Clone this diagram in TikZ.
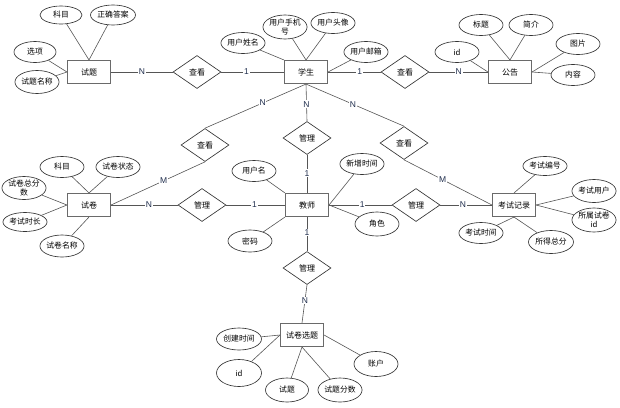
\documentclass[tikz,border=0pt]{standalone}
\usepackage{fontspec}
\setmainfont{Noto Sans CJK SC}
\newfontfamily\cardfont{Liberation Sans}
\usetikzlibrary{shapes.geometric}
\definecolor{linec}{HTML}{555555}
\definecolor{boxc}{HTML}{6A6A6A}
\definecolor{shapec}{HTML}{333333}
\definecolor{cardc}{HTML}{22304F}
\tikzset{
  ent/.style={draw=boxc, line width=1.1pt, fill=white, minimum width=43pt, minimum height=23pt, inner sep=0pt, font=\fontsize{8}{9}\selectfont},
  attr/.style={draw=shapec, line width=0.65pt, ellipse, fill=white, minimum width=44pt, minimum height=21pt, inner sep=0pt, font=\fontsize{7.8}{8.6}\selectfont, align=center},
  rel/.style={draw=shapec, line width=0.65pt, diamond, fill=white, minimum width=48pt, minimum height=33pt, inner sep=0pt, font=\fontsize{8}{9}\selectfont},
  conn/.style={draw=linec, line width=0.6pt},
  card/.style={fill=white, inner sep=0.8pt, text=cardc, font=\cardfont\fontsize{8.5}{9}\selectfont}
}
\begin{document}
\begin{tikzpicture}[x=1pt, y=-1pt]
\useasboundingbox (0,0) rectangle (620,407);
% entities
\node[ent] (st) at (89,72) {试题};
\node[ent] (xs) at (306,72) {学生};
\node[ent] (gg) at (510,72) {公告};
\node[ent] (sj) at (89,205) {试卷};
\node[ent] (js) at (307,205) {教师};
\node[ent] (kj) at (514,205) {考试记录};
\node[ent] (sx) at (302,335) {试卷选题};
% relationships
\node[rel] (ck1) at (197,72) {查看};
\node[rel] (ck2) at (405,72) {查看};
\node[rel] (ck3) at (205,145) {查看};
\node[rel] (ck4) at (404,143) {查看};
\node[rel] (gl1) at (307,138) {管理};
\node[rel] (gl2) at (202,205) {管理};
\node[rel] (gl3) at (416,205) {管理};
\node[rel] (gl4) at (307,268) {管理};
% attributes of 试题
\node[attr, minimum width=42pt, minimum height=18pt] (a1) at (61,15) {科目};
\node[attr, minimum width=45pt, minimum height=20pt] (a2) at (113,15) {正确答案};
\node[attr, minimum width=42pt] (a3) at (35,52) {选项};
\node[attr, minimum width=41pt, minimum height=23pt] (a4) at (37,82) {试题名称};
% attributes of 学生
\node[attr] (b1) at (243,43) {用户姓名};
\node[attr, minimum height=24pt] (b2) at (285,27) {用户手机\\号};
\node[attr] (b3) at (333,23) {用户头像};
\node[attr] (b4) at (366,52) {用户邮箱};
% attributes of 公告
\node[attr] (c1) at (481,25) {标题};
\node[attr] (c2) at (531,25) {简介};
\node[attr] (c3) at (457,52) {id};
\node[attr] (c4) at (578,44) {图片};
\node[attr] (c5) at (573,75) {内容};
% attributes of 试卷
\node[attr] (d1) at (62,167) {科目};
\node[attr] (d2) at (118,167) {试卷状态};
\node[attr, minimum height=23pt] (d3) at (24,188) {试卷总分\\数};
\node[attr, minimum height=19pt] (d4) at (25,222) {考试时长};
\node[attr, minimum height=22pt] (d5) at (62,246) {试卷名称};
% attributes of 教师
\node[attr] (e1) at (254,171) {用户名};
\node[attr] (e2) at (362,164) {新增时间};
\node[attr, minimum height=22pt] (e3) at (250,241) {密码};
\node[attr, minimum height=24pt] (e4) at (377,224) {角色};
% attributes of 考试记录
\node[attr, minimum height=19pt] (f1) at (545,166) {考试编号};
\node[attr, minimum height=23pt] (f2) at (594,191) {考试用户};
\node[attr, minimum height=24pt] (f3) at (594,220) {所属试卷\\id};
\node[attr] (f4) at (481,233) {考试时间};
\node[attr, minimum width=45pt, minimum height=23pt] (f5) at (551,242) {所得总分};
% attributes of 试卷选题
\node[attr, minimum width=45pt, minimum height=22pt] (g1) at (239,339) {创建时间};
\node[attr, minimum width=45pt, minimum height=27pt] (g2) at (239,373) {id};
\node[attr, minimum width=43pt, minimum height=24pt] (g3) at (287,390) {试题};
\node[attr, minimum width=44pt, minimum height=24pt] (g4) at (340,390) {试题分数};
\node[attr, minimum width=44pt, minimum height=25pt] (g5) at (376,364) {账户};
% attribute connectors
\draw[conn] (a1) -- (st.north);
\draw[conn] (a2) -- (st.north);
\draw[conn] (a3) -- (st.west);
\draw[conn] (a4) -- (st.west);
\draw[conn] (b1) -- (xs.north west);
\draw[conn] (b2) -- (xs.north);
\draw[conn] (b3) -- (xs.north);
\draw[conn] (b4) -- (xs.east);
\draw[conn] (c1) -- (gg.north);
\draw[conn] (c2) -- (gg.north);
\draw[conn] (c3) -- (gg.west);
\draw[conn] (c4) -- (gg.east);
\draw[conn] (c5) -- (gg.east);
\draw[conn] (d1) -- (sj.north);
\draw[conn] (d2) -- (sj.north);
\draw[conn] (d3) -- (sj.west);
\draw[conn] (d4) -- (sj.west);
\draw[conn] (d5) -- (sj.south);
\draw[conn] (e1) -- (js.north west);
\draw[conn] (e2) -- (js.east);
\draw[conn] (e3) -- (js.south west);
\draw[conn] (e4) -- (js.east);
\draw[conn] (f1) -- (kj.north);
\draw[conn] (f2) -- (kj.east);
\draw[conn] (f3) -- (kj.east);
\draw[conn] (f4) -- (kj.south);
\draw[conn] (f5) -- (kj.south);
\draw[conn] (g1) -- (sx.west);
\draw[conn] (g2) -- (sx.west);
\draw[conn] (g3) -- (sx.south);
\draw[conn] (g4) -- (sx.south);
\draw[conn] (g5) -- (sx.east);
% relationship connectors
\draw[conn] (st.east) -- node[card, pos=0.5] {N} (ck1.west);
\draw[conn] (ck1.east) -- node[card, pos=0.4] {1} (xs.west);
\draw[conn] (xs.east) -- node[card, pos=0.6] {1} (ck2.west);
\draw[conn] (ck2.east) -- node[card, pos=0.5] {N} (gg.west);
\draw[conn] (xs.south) -- node[card, pos=0.43] {N} (ck3.north);
\draw[conn] (xs.south) -- node[card, pos=0.54] {N} (gl1.north);
\draw[conn] (xs.south) -- node[card, pos=0.48] {N} (ck4.north);
\draw[conn] (gl1.south) -- node[card, pos=0.48] {1} (js.north);
\draw[conn] (ck3.south) -- node[card, pos=0.44] {M} (sj.east);
\draw[conn] (sj.east) -- node[card, pos=0.57] {N} (gl2.west);
\draw[conn] (gl2.east) -- node[card, pos=0.48] {1} (js.west);
\draw[conn] (js.east) -- node[card, pos=0.53] {1} (gl3.west);
\draw[conn] (gl3.east) -- node[card, pos=0.44] {N} (kj.west);
\draw[conn] (ck4.south) -- node[card, pos=0.44] {M} (kj.west);
\draw[conn] (js.south) -- node[card, pos=0.46] {1} (gl4.north);
\draw[conn] (gl4.south) -- node[card, pos=0.41] {N} (sx.north);
\end{tikzpicture}
\end{document}
